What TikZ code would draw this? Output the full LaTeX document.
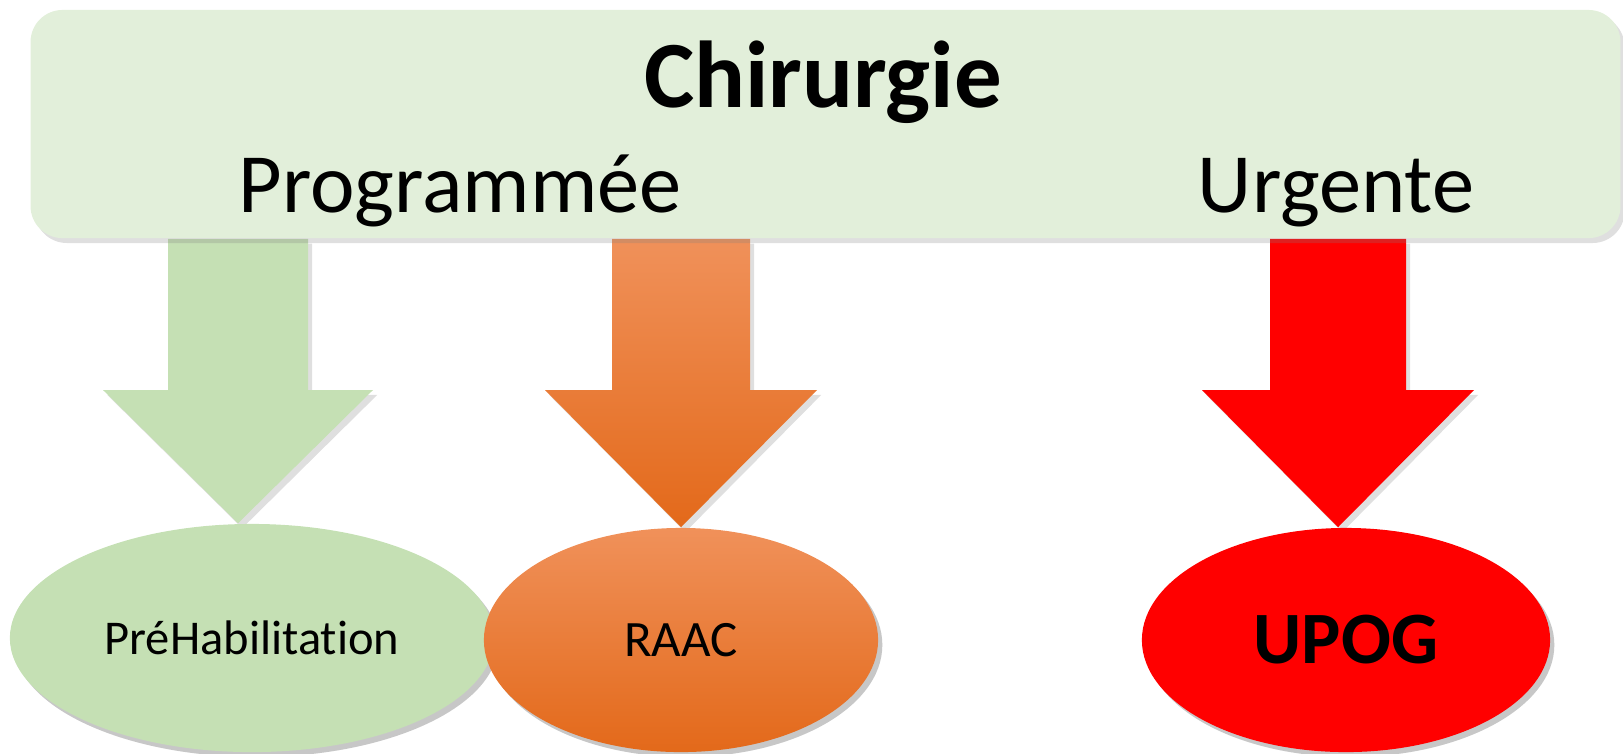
\documentclass[tikz,border=0pt]{standalone}
\usepackage{fontspec}
\setmainfont{Carlito}[Ligatures={NoCommon}]
\usetikzlibrary{shapes.geometric,shadows}
\definecolor{boxgreen}{HTML}{E2EFDA}
\definecolor{softgreen}{HTML}{C5E0B4}
\definecolor{orangetop}{HTML}{F0915A}
\definecolor{orangebot}{HTML}{E3691A}
\pgfdeclarelayer{background}
\pgfsetlayers{background,main}
\tikzset{
  softshadow/.style={drop shadow={opacity=0.25,shadow xshift=1.2pt,shadow yshift=-1.4pt}},
  topbox/.style={fill=boxgreen,rounded corners=0.32cm,minimum width=15.89cm,minimum height=2.28cm,softshadow},
  bubble/.style={ellipse,inner sep=0pt,softshadow,font=\fontsize{13.8}{17}\selectfont},
  label/.style={inner sep=0pt,anchor=base},
  greenfill/.style={fill=softgreen,softshadow},
  orangefill/.style={top color=orangetop,bottom color=orangebot,softshadow},
  redfill/.style={fill=red,softshadow}
}
% #1 fill style, #2 axis x, #3 half shaft, #4 half head, #5 target node
\newcommand{\bigarrow}[5]{%
  \path[#1] (chir.south -| #2-#3,0) -- (#2-#3,390) -- (#2-#4,390) -- (#5.north -| #2,0)
    -- (#2+#4,390) -- (#2+#3,390) -- (chir.south -| #2+#3,0) -- cycle;}
\begin{document}
\begin{tikzpicture}[x=0.01cm,y=-0.01cm]
\useasboundingbox (0,0) rectangle (1623,753);
\node[topbox] (chir) at (825.5,124) {};
\node[label,font=\fontsize{27}{32}\selectfont\bfseries] (titre) at (823,107) {Chirurgie};
\node[label,font=\fontsize{24}{29}\selectfont] (prog) at (460,212) {Programmée};
\node[label,font=\fontsize{24}{29}\selectfont] (urg) at (1336,212) {Urgente};
% bulles
\node[bubble,greenfill,minimum width=4.84cm,minimum height=2.28cm] (pre) at (252,638) {PréHabilitation};
\node[bubble,orangefill,minimum width=3.94cm,minimum height=2.24cm,font=\fontsize{14.5}{17}\selectfont] (raac) at (681,640) {RAAC};
\node[bubble,redfill,minimum width=4.08cm,minimum height=2.24cm,font=\fontsize{21}{25}\selectfont\bfseries] (upog) at (1346,640) {UPOG};
% fleches
\begin{pgfonlayer}{background}
\bigarrow{greenfill}{238}{70}{135}{pre}
\bigarrow{orangefill}{681}{69}{136}{raac}
\bigarrow{redfill}{1338}{68}{136}{upog}
\end{pgfonlayer}
\end{tikzpicture}
\end{document}
